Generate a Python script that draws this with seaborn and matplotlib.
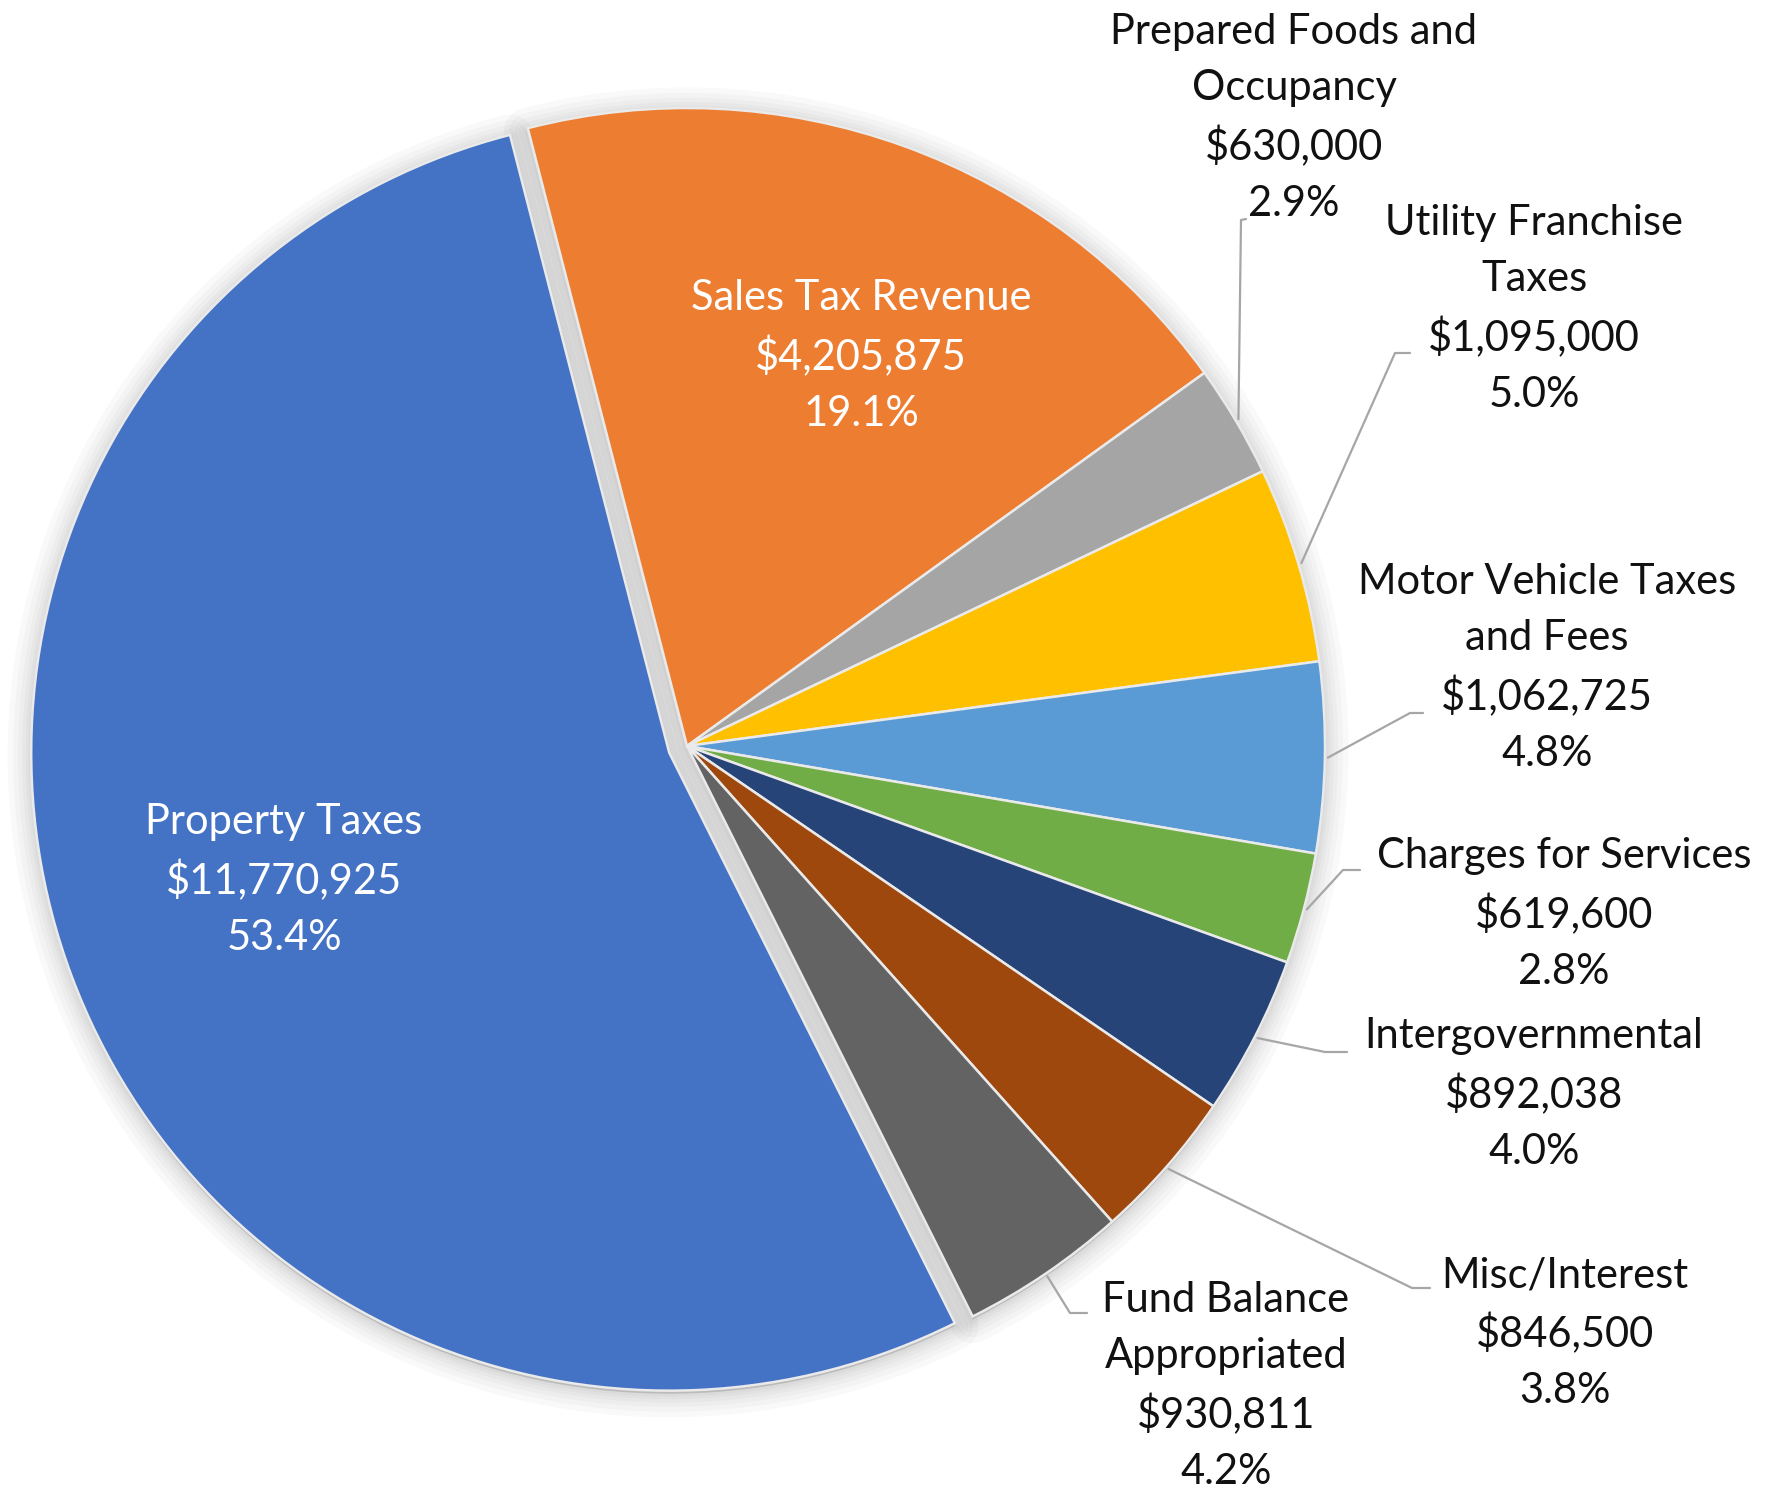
import numpy as np
import matplotlib.pyplot as plt
import seaborn as sns
from matplotlib.patches import Wedge

# revenue breakdown, in pie order (clockwise)
categories = ["Property Taxes", "Sales Tax Revenue", "Prepared Foods and\nOccupancy",
              "Utility Franchise\nTaxes", "Motor Vehicle Taxes\nand Fees", "Charges for Services",
              "Intergovernmental", "Misc/Interest", "Fund Balance\nAppropriated"]
amounts = [11770925, 4205875, 630000, 1095000, 1062725, 619600, 892038, 846500, 930811]
colors = ["#4472C4", "#ED7D31", "#A5A5A5", "#FFC000", "#5B9BD5",
          "#70AD47", "#264478", "#9E480E", "#636363"]

sns.set_style("white")
plt.rcParams['font.family'] = ['Lato', 'DejaVu Sans']

W, H = 1768, 1495
fig = plt.figure(figsize=(W / 100, H / 100), dpi=100)
ax = fig.add_axes([0, 0, 1, 1])

cx, cy, R = 687, H - 746, 638
start = -63.4
n = len(amounts)
expl = [19] + [0] * (n - 1)   # axes units are pixels, so this is a px offset

wedges, _ = ax.pie(amounts, radius=R, center=(cx, cy), startangle=start, counterclock=False,
                   explode=expl, colors=colors,
                   wedgeprops=dict(linewidth=1.8, edgecolor='#EAEAEA', zorder=2))

# soft shadow behind the two pie pieces (exploded slice + the rest)
big = wedges[0]
rest = (min(w.theta1 for w in wedges[1:]), max(w.theta2 for w in wedges[1:]))
shapes = [(big.center, big.theta1, big.theta2), ((cx, cy), rest[0], rest[1])]
for lw in [34, 26, 19, 13, 8, 4]:
    for (px, py), t1, t2 in shapes:
        ax.add_patch(Wedge((px, py - 3), R, t1, t2, facecolor='black', edgecolor='black',
                           lw=lw, alpha=0.022, joinstyle='round', zorder=1))

total = sum(amounts)
labels = [f"{c}\n${a:,.0f}\n{a / total * 100:.1f}%" for c, a in zip(categories, amounts)]

# label block centres (px, screen coords) and leader elbows
label_pos = [(284, 880), (861, 356), (1294, 118), (1534, 309), (1547, 668),
             (1564, 914), (1534, 1094), (1565, 1333), (1226, 1386)]
elbows = [None, None, [(1241, 220), (1246, 219)], [(1395, 353), (1410, 353)],
          [(1410, 713), (1423, 713)], [(1343, 870), (1360, 870)],
          [(1325, 1052), (1347, 1052)], [(1412, 1288), (1430, 1288)],
          [(1070, 1313), (1087, 1313)]]

for i, (w, lab) in enumerate(zip(wedges, labels)):
    x, y = label_pos[i]
    inside = elbows[i] is None
    ax.text(x, H - y, lab, ha='center', va='center', fontsize=30, linespacing=1.56,
            color='white' if inside else '#111111', zorder=3)
    if not inside:
        mid = np.deg2rad((w.theta1 + w.theta2) / 2)
        sx = w.center[0] + (w.r + 3) * np.cos(mid)
        sy = w.center[1] + (w.r + 3) * np.sin(mid)
        pts = [(sx, sy)] + [(px, H - py) for px, py in elbows[i]]
        ax.plot([p[0] for p in pts], [p[1] for p in pts], color='#A6A6A6', lw=1.6, zorder=3)

ax.set_xlim(0, W)
ax.set_ylim(0, H)
ax.set_aspect('equal')
ax.axis('off')

plt.savefig('out.png', dpi=100)
